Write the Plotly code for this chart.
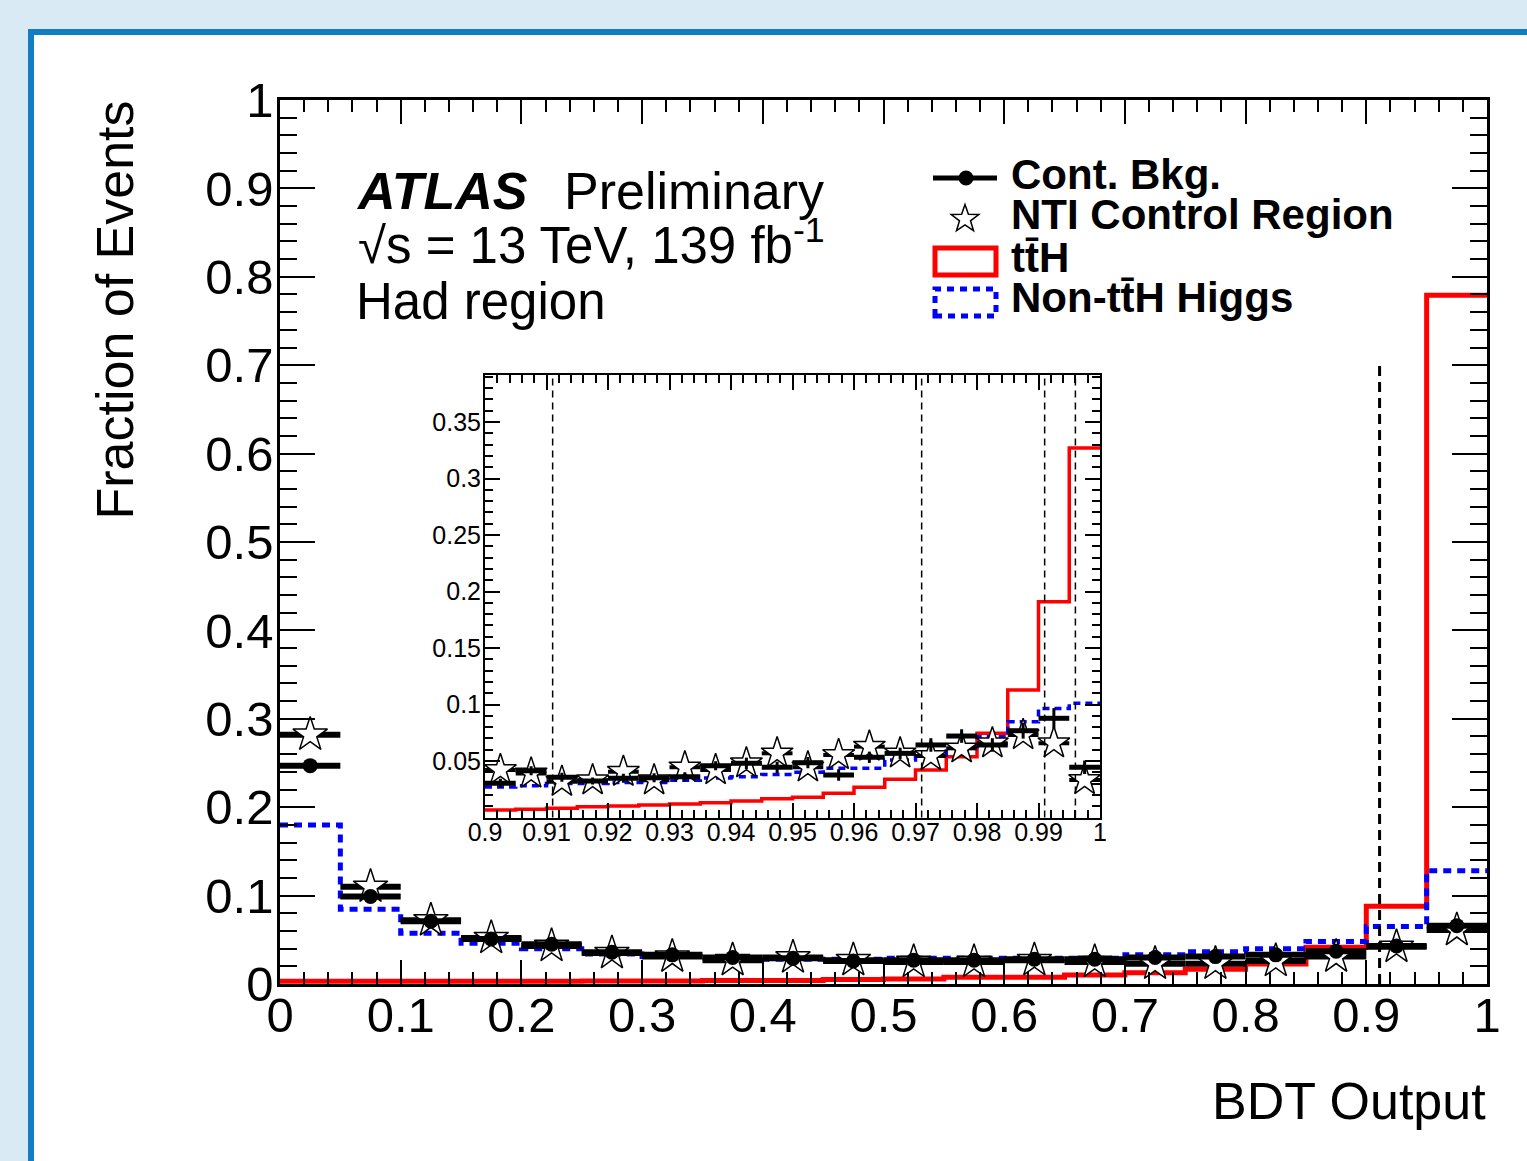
import numpy as np
import plotly.graph_objects as go

W, H = 1527, 1161
FONT = "Liberation Sans, Arial, Helvetica, sans-serif"

# ---------------- data: main panel (BDT output, 20 bins of 0.05) ----------------
main_edges = np.linspace(0.0, 1.0, 21)
cont_bkg = [0.247, 0.099, 0.071, 0.051, 0.045, 0.036, 0.033, 0.030, 0.029, 0.026,
            0.027, 0.027, 0.028, 0.028, 0.030, 0.031, 0.033, 0.037, 0.043, 0.066]
nti_cr = [0.282, 0.110, 0.072, 0.052, 0.043, 0.035, 0.031, 0.027, 0.030, 0.027,
          0.025, 0.025, 0.027, 0.025, 0.023, 0.023, 0.026, 0.031, 0.042, 0.061]
tth = [0.003, 0.003, 0.003, 0.003, 0.003, 0.0035, 0.0035, 0.004, 0.004, 0.005,
       0.0057, 0.0075, 0.0075, 0.0102, 0.0128, 0.0166, 0.0226, 0.0415, 0.088, 0.779]
non_tth_higgs = [0.180, 0.0845, 0.0573, 0.046, 0.040, 0.034, 0.031, 0.029, 0.028, 0.028,
                 0.029, 0.029, 0.029, 0.029, 0.033, 0.0366, 0.040, 0.048, 0.065, 0.128]

# ---------------- data: inset (BDT output 0.9-1.0, 20 bins of 0.005) ----------------
inset_edges = np.linspace(0.9, 1.0, 21)
cont_bkg_in = [0.0302, 0.0414, 0.0356, 0.0323, 0.0347, 0.0352, 0.0361, 0.0458, 0.0480, 0.0444,
               0.0485, 0.0376, 0.0533, 0.0568, 0.0642, 0.0721, 0.0642, 0.0768, 0.0878, 0.0444]
cont_bkg_in_err = [0.004, 0.004, 0.004, 0.003, 0.004, 0.004, 0.004, 0.004, 0.005, 0.005,
                   0.005, 0.005, 0.005, 0.005, 0.006, 0.006, 0.006, 0.007, 0.009, 0.006]
nti_cr_in = [0.0420, 0.0390, 0.0317, 0.0330, 0.0405, 0.0330, 0.0444, 0.0420, 0.0480, 0.0568,
             0.0444, 0.0553, 0.0627, 0.0568, 0.0544, 0.0612, 0.0657, 0.0730, 0.0657, 0.0332]
tth_in = [0.0066, 0.0072, 0.0081, 0.0096, 0.0102, 0.0111, 0.0120, 0.0131, 0.0145, 0.0165,
          0.0180, 0.0214, 0.0267, 0.0338, 0.0420, 0.0538, 0.0745, 0.1128, 0.1910, 0.3270]
non_tth_higgs_in = [0.027, 0.028, 0.030, 0.030, 0.031, 0.031, 0.033, 0.035, 0.036, 0.038,
                    0.040, 0.0435, 0.0435, 0.0509, 0.0553, 0.0627, 0.0715, 0.0848, 0.0965, 0.101]

# category boundaries (dashed lines)
main_cut = 0.911
main_cut_top = 0.70
inset_cuts = [0.911, 0.971, 0.991, 0.996]

# tick labels
main_x_ticks = [0, 0.1, 0.2, 0.3, 0.4, 0.5, 0.6, 0.7, 0.8, 0.9, 1.0]
main_x_labels = ["0", "0.1", "0.2", "0.3", "0.4", "0.5", "0.6", "0.7", "0.8", "0.9", "1"]
main_y_ticks = main_x_ticks
main_y_labels = main_x_labels
inset_x_ticks = [0.90, 0.91, 0.92, 0.93, 0.94, 0.95, 0.96, 0.97, 0.98, 0.99, 1.00]
inset_x_labels = ["0.9", "0.91", "0.92", "0.93", "0.94", "0.95", "0.96", "0.97", "0.98", "0.99", "1"]
inset_y_ticks = [0.05, 0.10, 0.15, 0.20, 0.25, 0.30, 0.35]
inset_y_labels = ["0.05", "0.1", "0.15", "0.2", "0.25", "0.3", "0.35"]


def fx(px):
    return px / W


def fy(py):
    return 1 - py / H


def centers(edges):
    e = np.asarray(edges)
    return 0.5 * (e[:-1] + e[1:])


def halfw(edges):
    e = np.asarray(edges)
    return 0.5 * (e[1:] - e[:-1])


def step(vals):
    return list(vals) + [vals[-1]]


fig = go.Figure()

# ---- main panel ----
fig.add_trace(go.Scatter(x=main_edges, y=step(tth), mode="lines",
                         line=dict(shape="hv", color="#ff0000", width=5),
                         xaxis="x", yaxis="y", showlegend=False))
fig.add_trace(go.Scatter(x=main_edges, y=step(non_tth_higgs), mode="lines",
                         line=dict(shape="hv", color="#0000ff", width=5, dash="8px,6px"),
                         xaxis="x", yaxis="y", showlegend=False))
fig.add_trace(go.Scatter(x=centers(main_edges), y=nti_cr, mode="markers",
                         marker=dict(symbol="star", size=26, color="white",
                                     line=dict(color="black", width=1.5)),
                         error_x=dict(type="data", array=halfw(main_edges), thickness=6,
                                      width=0, color="black"),
                         xaxis="x", yaxis="y", showlegend=False))
fig.add_trace(go.Scatter(x=centers(main_edges), y=cont_bkg, mode="markers",
                         marker=dict(symbol="circle", size=15, color="black"),
                         error_x=dict(type="data", array=halfw(main_edges), thickness=6,
                                      width=0, color="black"),
                         xaxis="x", yaxis="y", showlegend=False))

# ---- inset ----
fig.add_trace(go.Scatter(x=inset_edges, y=step(tth_in), mode="lines",
                         line=dict(shape="hv", color="#ff0000", width=3.5),
                         xaxis="x2", yaxis="y2", showlegend=False))
fig.add_trace(go.Scatter(x=inset_edges, y=step(non_tth_higgs_in), mode="lines",
                         line=dict(shape="hv", color="#0000ff", width=3.5, dash="7px,5px"),
                         xaxis="x2", yaxis="y2", showlegend=False))
fig.add_trace(go.Scatter(x=centers(inset_edges), y=nti_cr_in, mode="markers",
                         marker=dict(symbol="star", size=24, color="white",
                                     line=dict(color="black", width=1.5)),
                         error_x=dict(type="data", array=halfw(inset_edges), thickness=4,
                                      width=0, color="black"),
                         xaxis="x2", yaxis="y2", showlegend=False))
fig.add_trace(go.Scatter(x=centers(inset_edges), y=cont_bkg_in, mode="markers",
                         marker=dict(symbol="circle", size=3, color="black"),
                         error_x=dict(type="data", array=halfw(inset_edges), thickness=5,
                                      width=0, color="black"),
                         error_y=dict(type="data", array=cont_bkg_in_err, thickness=3,
                                      width=0, color="black"),
                         xaxis="x2", yaxis="y2", showlegend=False))

tickfont_main = dict(family=FONT, size=49, color="black")
tickfont_in = dict(family=FONT, size=25, color="black")

common = dict(ticks="inside", tickcolor="black", tickwidth=2, mirror="allticks",
              showline=True, linecolor="black", showgrid=False, zeroline=False,
              tickmode="array", automargin=False)

fig.update_layout(
    width=W, height=H, autosize=False,
    margin=dict(l=0, r=0, t=0, b=0, pad=0, autoexpand=False),
    paper_bgcolor="#d9eaf5", plot_bgcolor="white",
    showlegend=False,
    xaxis=dict(domain=[fx(280), fx(1487)], range=[0, 1], anchor="y",
               tickvals=main_x_ticks, ticktext=main_x_labels, ticklen=24, linewidth=2.5,
               tickfont=tickfont_main, ticklabelstandoff=-14,
               minor=dict(tick0=0, dtick=0.02, ticks="inside", ticklen=12, tickwidth=2,
                          tickcolor="black", showgrid=False), **common),
    yaxis=dict(domain=[fy(984), fy(100)], range=[0, 1], anchor="x",
               tickvals=main_y_ticks, ticktext=main_y_labels, ticklen=35, linewidth=2.5,
               tickfont=tickfont_main, ticklabelstandoff=-6,
               minor=dict(tick0=0, dtick=0.02, ticks="inside", ticklen=17, tickwidth=2,
                          tickcolor="black", showgrid=False), **common),
    xaxis2=dict(domain=[fx(485), fx(1100)], range=[0.9, 1.0], anchor="y2",
                tickvals=inset_x_ticks, ticktext=inset_x_labels, ticklen=15, linewidth=2,
                tickfont=tickfont_in, ticklabelstandoff=-9,
                minor=dict(tick0=0.9, dtick=0.002, ticks="inside", ticklen=8, tickwidth=1.5,
                           tickcolor="black", showgrid=False), **common),
    yaxis2=dict(domain=[fy(817.5), fy(375)], range=[0, 0.3916], anchor="x2",
                tickvals=inset_y_ticks, ticktext=inset_y_labels, ticklen=15, linewidth=2,
                tickfont=tickfont_in, ticklabelstandoff=-3,
                minor=dict(tick0=0, dtick=0.01, ticks="inside", ticklen=8, tickwidth=1.5,
                           tickcolor="black", showgrid=False), **common),
)

shapes = []
# outer blue frame with white inner canvas
shapes.append(dict(type="rect", xref="paper", yref="paper", layer="below",
                   x0=fx(31), x1=1.2, y0=-0.2, y1=fy(32),
                   line=dict(color="#117dc2", width=6), fillcolor="white"))
# main dashed category line
shapes.append(dict(type="line", xref="x", yref="y", x0=main_cut, x1=main_cut,
                   y0=0, y1=main_cut_top, line=dict(color="black", width=3, dash="10px,6px")))
# inset dashed category lines
for c in inset_cuts:
    shapes.append(dict(type="line", xref="x2", yref="y2 domain", x0=c, x1=c, y0=0, y1=1,
                       line=dict(color="black", width=1.5, dash="7px,5px")))

# legend symbols
shapes.append(dict(type="line", xref="paper", yref="paper", x0=fx(933), x1=fx(997),
                   y0=fy(178), y1=fy(178), line=dict(color="black", width=5)))
shapes.append(dict(type="circle", xref="paper", yref="paper", x0=fx(958.5), x1=fx(973.5),
                   y0=fy(185.5), y1=fy(170.5), fillcolor="black", line=dict(color="black", width=0)))
# star glyph for legend
cx, cy, ro, ri = 965.0, 219.0, 14.5, 5.8
pts = []
for k in range(10):
    ang = np.pi / 2 + k * np.pi / 5
    r = ro if k % 2 == 0 else ri
    pts.append((fx(cx + r * np.cos(ang)), fy(cy - r * np.sin(ang))))
path = "M " + " L ".join(f"{a:.5f},{b:.5f}" for a, b in pts) + " Z"
shapes.append(dict(type="path", xref="paper", yref="paper", path=path,
                   line=dict(color="black", width=1.5), fillcolor="white"))
shapes.append(dict(type="rect", xref="paper", yref="paper", x0=fx(935), x1=fx(996),
                   y0=fy(275), y1=fy(248), line=dict(color="#ff0000", width=5), fillcolor="rgba(0,0,0,0)"))
shapes.append(dict(type="rect", xref="paper", yref="paper", x0=fx(935), x1=fx(996),
                   y0=fy(316), y1=fy(289), line=dict(color="#0000ff", width=5, dash="7px,6px"),
                   fillcolor="rgba(0,0,0,0)"))
fig.update_layout(shapes=shapes)


def txt(text, px, py, size, xanchor="left", yanchor="middle", angle=0):
    return dict(text=text, x=fx(px), y=fy(py), xref="paper", yref="paper",
                xanchor=xanchor, yanchor=yanchor, showarrow=False, textangle=angle,
                font=dict(family=FONT, size=size, color="black"), borderpad=0)


annotations = [
    txt("<b><i>ATLAS</i></b>", 355, 191, 52),
    txt("Preliminary", 563, 191, 52),
    txt("√s = 13 TeV, 139 fb<sup>-1</sup>", 357, 242, 51),
    txt("Had region", 355, 301, 51),
    txt("<b>Cont. Bkg.</b>", 1010, 174, 42),
    txt("<b>NTI Control Region</b>", 1010, 215, 42),
    txt("<b>tt\u0304H</b>", 1010, 257, 42),
    txt("<b>Non-tt\u0304H Higgs</b>", 1010, 298, 42),
    txt("BDT Output", 1487, 1101, 52, xanchor="right"),
    txt("Fraction of Events", 114, 100, 52, xanchor="center", yanchor="top", angle=-90),
]
fig.update_layout(annotations=annotations)

fig.write_html("out.html", config={"displayModeBar": False},
               post_script="document.body.style.margin='0px';document.body.style.overflow='hidden';")
